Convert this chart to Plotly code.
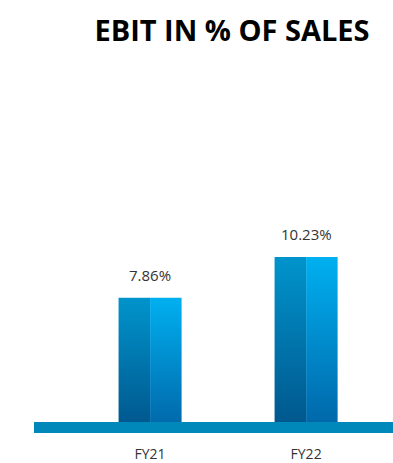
import plotly.graph_objects as go

# Chart data
categories = ["FY21", "FY22"]
ebit_pct = [7.86, 10.23]
value_labels = ["7.86%", "10.23%"]

# Styling
bar_width = 0.404
left_colors = ["#00548a", "#0094cc"]   # bottom -> top, darker half
right_colors = ["#0064a6", "#00b0f0"]  # bottom -> top, lighter half
base_color = "#0088bb"

fig = go.Figure()

for i, (cat, val) in enumerate(zip(categories, ebit_pct)):
    halves = [
        (i - bar_width / 2, i, left_colors),
        (i, i + bar_width / 2, right_colors),
    ]
    for x0, x1, cols in halves:
        fig.add_trace(go.Scatter(
            x=[x0, x1, x1, x0, x0],
            y=[0, 0, val, val, 0],
            mode="lines",
            fill="toself",
            line=dict(width=0),
            fillgradient=dict(
                type="vertical",
                colorscale=[[0, cols[0]], [1, cols[1]]],
                start=0,
                stop=val,
            ),
            hoverinfo="skip",
            showlegend=False,
        ))
    fig.add_annotation(
        x=i, y=val, text=value_labels[i],
        showarrow=False, yanchor="bottom", yshift=11,
        font=dict(family="Open Sans", size=15, color="#333333"),
    )

# Thick baseline strip across the plot area
fig.add_shape(
    type="rect", xref="paper", yref="paper",
    x0=0, x1=1, y0=0, y1=11 / 370,
    fillcolor=base_color, line=dict(width=0), layer="above",
)

fig.update_layout(
    width=393, height=463,
    margin=dict(l=34, r=0, t=63, b=30, autoexpand=False),
    paper_bgcolor="white", plot_bgcolor="white",
    title=dict(
        text="<b>EBIT IN % OF SALES</b>",
        x=232 / 393, xref="container", xanchor="center",
        y=1 - 31 / 463, yref="container", yanchor="middle",
        font=dict(family="Open Sans", size=29, color="#000000"),
    ),
    xaxis=dict(
        range=[-0.744, 1.557],
        tickvals=list(range(len(categories))),
        ticktext=categories,
        showgrid=False, zeroline=False, showline=False,
        ticks="", ticklabelstandoff=11, automargin=False,
        tickfont=dict(family="Open Sans", size=14, color="#333333"),
        fixedrange=True,
    ),
    yaxis=dict(
        range=[0, 370 / 17.2],
        visible=False, showgrid=False, zeroline=False,
        fixedrange=True,
    ),
    showlegend=False,
)

fig.write_html("out.html")
